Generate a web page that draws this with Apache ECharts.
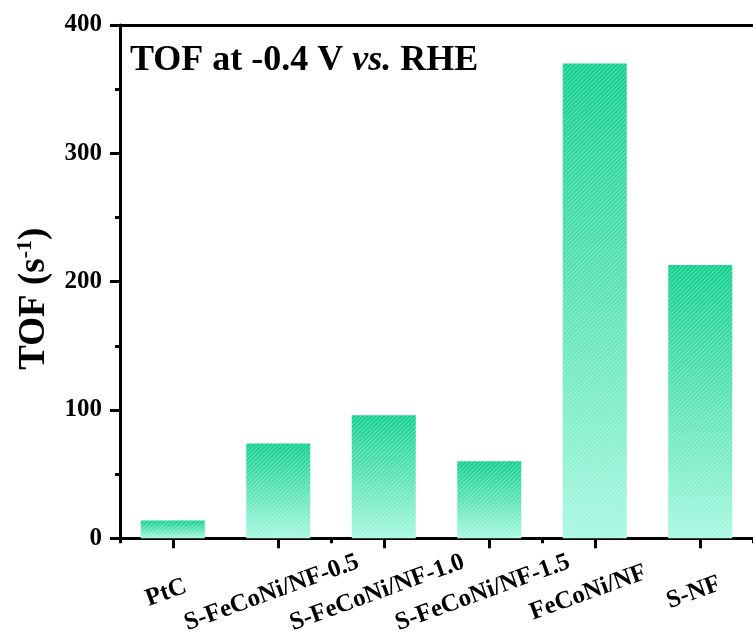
<!DOCTYPE html>
<html>
<head>
<meta charset="utf-8">
<script src="https://cdn.jsdelivr.net/npm/echarts@6/dist/echarts.min.js"></script>
<style>
  html, body { margin: 0; padding: 0; background: #fff; }
  #chart { width: 753px; height: 637px; }
</style>
</head>
<body>
<div id="chart"></div>
<script>
// Catalysts and their turnover frequency at -0.4 V vs. RHE
const categories = ['PtC', 'S-FeCoNi/NF-0.5', 'S-FeCoNi/NF-1.0', 'S-FeCoNi/NF-1.5', 'FeCoNi/NF', 'S-NF'];
const tofValues = [14, 74, 96, 60, 370, 213];
const yTicks = [0, 100, 200, 300, 400];

const FONT = '"Liberation Serif", "Times New Roman", serif';

const chart = echarts.init(document.getElementById('chart'), null, { renderer: 'canvas' });

const barFill = new echarts.graphic.LinearGradient(0, 0, 0, 1, [
  { offset: 0, color: '#10cf8b' },
  { offset: 1, color: '#a6f8e0' }
]);

chart.setOption({
  backgroundColor: '#ffffff',
  animation: false,
  title: {
    left: 130,
    top: 43,
    padding: 0,
    text: '{b|TOF at -0.4 V }{i|vs.}{b| RHE}',
    textStyle: {
      rich: {
        b: { fontFamily: FONT, fontWeight: 'bold', fontSize: 36, color: '#000' },
        i: { fontFamily: FONT, fontWeight: 'bold', fontStyle: 'italic', fontSize: 36, color: '#000' }
      }
    }
  },
  grid: { left: 120, right: -8, top: 25, bottom: 98, containLabel: false },
  xAxis: [
    {
      type: 'category',
      data: categories,
      position: 'bottom',
      axisLine: { show: true, lineStyle: { color: '#000', width: 3 } },
      axisTick: { show: true, alignWithLabel: true, length: 10, lineStyle: { color: '#000', width: 3 } },
      axisLabel: {
        show: true,
        interval: 0,
        rotate: 20,
        align: 'center',
        verticalAlign: 'middle',
        margin: 52,
        padding: [0, 14, 0, 0],
        fontFamily: FONT,
        fontWeight: 'bold',
        fontSize: 25,
        color: '#000'
      },
      splitLine: { show: false }
    },
    {
      // short ticks on the category boundaries
      type: 'category',
      data: categories,
      position: 'bottom',
      axisLine: { show: false },
      axisTick: { show: true, alignWithLabel: false, length: 5, lineStyle: { color: '#000', width: 3 } },
      axisLabel: { show: false },
      splitLine: { show: false }
    },
    {
      // frame line along the top
      type: 'category',
      data: categories,
      position: 'top',
      axisLine: { show: true, lineStyle: { color: '#000', width: 3 } },
      axisTick: { show: false },
      axisLabel: { show: false },
      splitLine: { show: false }
    }
  ],
  yAxis: {
    type: 'value',
    min: yTicks[0],
    max: yTicks[yTicks.length - 1],
    interval: 100,
    name: '{n|TOF (s}{s|-1}{n|)}',
    nameLocation: 'middle',
    nameRotate: 90,
    nameGap: 66,
    nameTextStyle: {
      padding: [0, 34, 0, 0],
      rich: {
        n: { fontFamily: FONT, fontWeight: 'bold', fontSize: 37, color: '#000', lineHeight: 40 },
        s: { fontFamily: FONT, fontWeight: 'bold', fontSize: 22, color: '#000', verticalAlign: 'top', lineHeight: 40, padding: [0, 0, 16, 0] }
      }
    },
    axisLine: { show: true, lineStyle: { color: '#000', width: 3 } },
    axisTick: { show: true, length: 10, lineStyle: { color: '#000', width: 3 } },
    minorTick: { show: true, splitNumber: 2, length: 5, lineStyle: { color: '#000', width: 3 } },
    axisLabel: {
      margin: 18,
      fontFamily: FONT,
      fontWeight: 'bold',
      fontSize: 25,
      color: '#000',
      formatter: v => (yTicks.includes(v) ? String(v) : '')
    },
    splitLine: { show: false }
  },
  series: [
    {
      type: 'bar',
      xAxisIndex: 0,
      data: tofValues,
      barWidth: 64,
      itemStyle: {
        color: barFill,
        // fine white "/" hatching over the gradient
        decal: {
          symbol: 'rect',
          symbolSize: 1,
          color: 'rgba(255,255,255,0.3)',
          dashArrayX: [1, 0],
          dashArrayY: [1, 2],
          rotation: -Math.PI / 4
        }
      }
    }
  ]
});
</script>
</body>
</html>
